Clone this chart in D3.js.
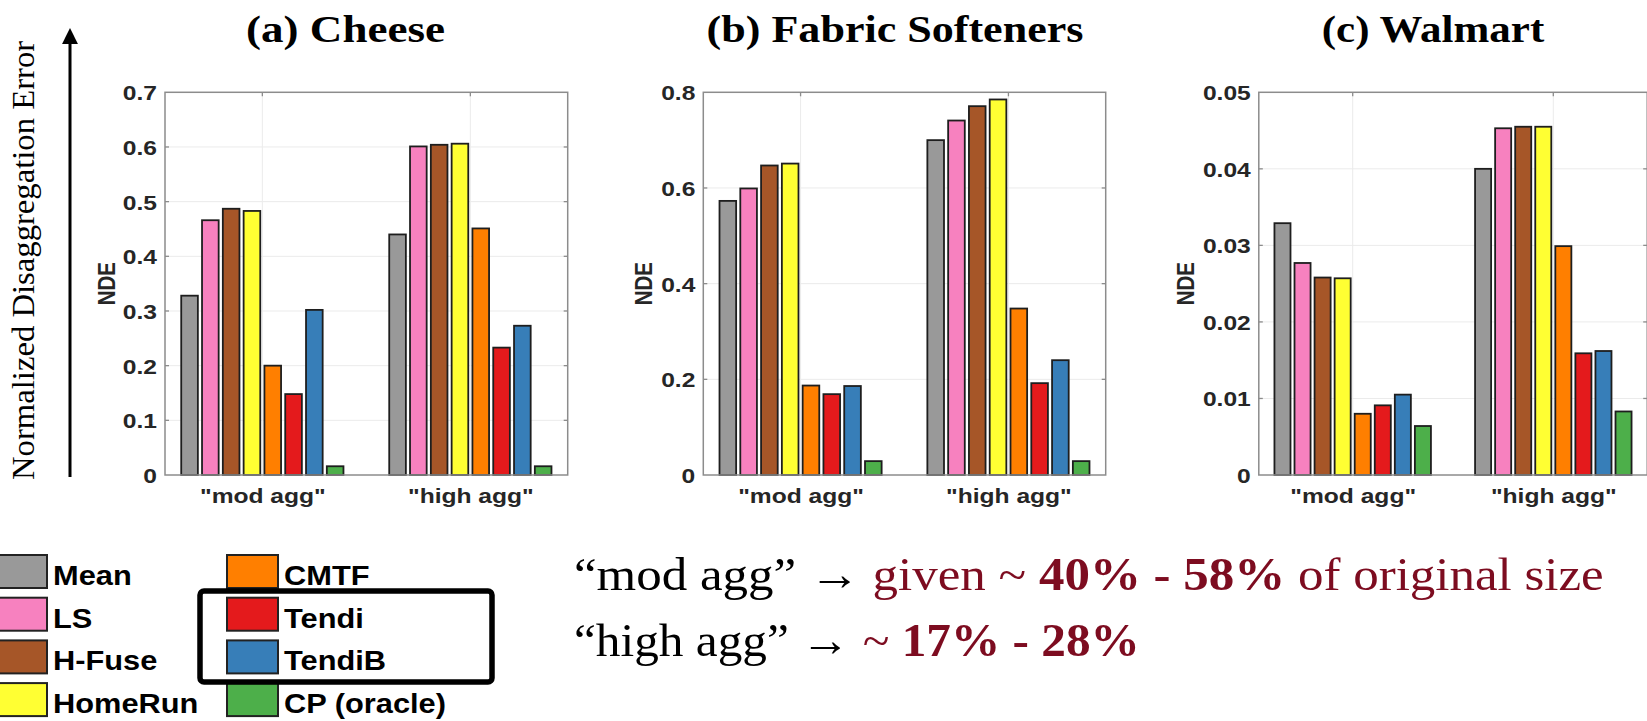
<!DOCTYPE html>
<html><head><meta charset="utf-8">
<script src="https://cdn.jsdelivr.net/npm/d3@7"></script>
<style>html,body{margin:0;padding:0;background:#fff;overflow:hidden}</style>
</head><body>
<svg id="fig" width="1647" height="721"></svg>
<script>
// ---------------- data ----------------
const groups = ['"mod agg"', '"high agg"'];
const methods = ['Mean', 'LS', 'H-Fuse', 'HomeRun', 'CMTF', 'Tendi', 'TendiB', 'CP (oracle)'];
const methodColors = ['#999999', '#f781bf', '#a65628', '#ffff33', '#ff7f00', '#e41a1c', '#377eb8', '#4daf4a'];

const cheeseMod  = [0.328, 0.466, 0.487, 0.483, 0.200, 0.148, 0.302, 0.016];
const cheeseHigh = [0.440, 0.601, 0.604, 0.606, 0.451, 0.233, 0.273, 0.016];
const fabricMod  = [0.573, 0.599, 0.647, 0.651, 0.187, 0.169, 0.186, 0.029];
const fabricHigh = [0.700, 0.741, 0.771, 0.785, 0.348, 0.192, 0.240, 0.029];
const walmartMod  = [0.0329, 0.0277, 0.0258, 0.0257, 0.0080, 0.0091, 0.0105, 0.0064];
const walmartHigh = [0.0400, 0.0453, 0.0455, 0.0455, 0.0299, 0.0159, 0.0162, 0.0083];

const cheeseTicks = [0, 0.1, 0.2, 0.3, 0.4, 0.5, 0.6, 0.7];
const cheeseTickLabels = ['0', '0.1', '0.2', '0.3', '0.4', '0.5', '0.6', '0.7'];
const fabricTicks = [0, 0.2, 0.4, 0.6, 0.8];
const fabricTickLabels = ['0', '0.2', '0.4', '0.6', '0.8'];
const walmartTicks = [0, 0.01, 0.02, 0.03, 0.04, 0.05];
const walmartTickLabels = ['0', '0.01', '0.02', '0.03', '0.04', '0.05'];

const panelTitles = ['(a) Cheese', '(b) Fabric Softeners', '(c) Walmart'];
const yLabel = 'NDE';
const sideLabel = 'Normalized Disaggregation Error';

// ---------------- layout / style ----------------
const svg = d3.select('#fig');
const SANS = '"Liberation Sans", Arial, sans-serif';
const SERIF = '"Liberation Serif", "Times New Roman", serif';
const TOP = 92.3, BOTTOM = 475;
const STRETCH = 1.2;

const panels = [
  {x0: 165,    x1: 567.7,  mod: cheeseMod,  high: cheeseHigh,  ticks: cheeseTicks,  labels: cheeseTickLabels,  tc: 345.5, tw: 199, ndeX: 106.5},
  {x0: 703.3,  x1: 1105.7, mod: fabricMod,  high: fabricHigh,  ticks: fabricTicks,  labels: fabricTickLabels,  tc: 895,   tw: 377, ndeX: 643},
  {x0: 1258.8, x1: 1647.2, mod: walmartMod, high: walmartHigh, ticks: walmartTicks, labels: walmartTickLabels, tc: 1433,  tw: 223, ndeX: 1185.5}
];

function fitText(t, targetW) {
  const w = t.node().getBBox().width;
  return targetW / w;
}

panels.forEach((p, pi) => {
  const x = d3.scaleLinear().domain([0.532, 2.468]).range([p.x0, p.x1]);
  const y = d3.scaleLinear().domain([0, p.ticks[p.ticks.length - 1]]).range([BOTTOM, TOP]);
  const g = svg.append('g');

  // grid
  g.append('g').selectAll('line').data(p.ticks.slice(1, -1)).join('line')
    .attr('x1', p.x0).attr('x2', p.x1).attr('y1', d => y(d)).attr('y2', d => y(d))
    .attr('stroke', '#ebebeb').attr('stroke-width', 1);
  g.append('g').selectAll('line').data([1, 2]).join('line')
    .attr('x1', d => x(d)).attr('x2', d => x(d)).attr('y1', TOP).attr('y2', BOTTOM)
    .attr('stroke', '#ebebeb').attr('stroke-width', 1);

  // bars
  const series = [p.mod, p.high];
  const bw = x(0.08) - x(0);
  series.forEach((vals, gi) => {
    g.append('g').selectAll('rect').data(vals).join('rect')
      .attr('x', (d, i) => x(gi + 1 + (i - 3.5) * 0.1) - bw / 2)
      .attr('width', bw)
      .attr('y', d => y(d))
      .attr('height', d => y(0) - y(d))
      .attr('fill', (d, i) => methodColors[i])
      .attr('stroke', '#1e1e1e').attr('stroke-width', 1.8);
  });

  // frame
  g.append('rect').attr('x', p.x0).attr('y', TOP).attr('width', p.x1 - p.x0).attr('height', BOTTOM - TOP)
    .attr('fill', 'none').attr('stroke', '#8c8c8c').attr('stroke-width', 1.5);
  // inner tick marks
  g.append('g').selectAll('line').data(p.ticks.slice(1, -1)).join('line')
    .attr('x1', p.x1 - 4).attr('x2', p.x1).attr('y1', d => y(d)).attr('y2', d => y(d))
    .attr('stroke', '#8c8c8c').attr('stroke-width', 1.3);
  g.append('g').selectAll('line').data(p.ticks.slice(1, -1)).join('line')
    .attr('x1', p.x0).attr('x2', p.x0 + 4).attr('y1', d => y(d)).attr('y2', d => y(d))
    .attr('stroke', '#8c8c8c').attr('stroke-width', 1.3);
  g.append('g').selectAll('line').data([1, 2]).join('line')
    .attr('x1', d => x(d)).attr('x2', d => x(d)).attr('y1', TOP).attr('y2', TOP + 4)
    .attr('stroke', '#8c8c8c').attr('stroke-width', 1.3);

  // y axis
  const ya = g.append('g').attr('transform', `translate(${p.x0},0)`)
    .call(d3.axisLeft(y).tickValues(p.ticks).tickFormat((d, i) => p.labels[i]).tickSize(0).tickPadding(8));
  ya.select('.domain').remove();
  ya.selectAll('text').attr('font-family', SANS).attr('font-weight', 'bold').attr('font-size', 20.5)
    .attr('fill', '#262626').attr('x', -8 / STRETCH).attr('dy', '0.36em')
    .attr('transform', `scale(${STRETCH},1)`);

  // x axis
  const xa = g.append('g').attr('transform', `translate(0,${BOTTOM})`)
    .call(d3.axisBottom(x).tickValues([1, 2]).tickFormat(d => groups[d - 1]).tickSize(0).tickPadding(13));
  xa.select('.domain').remove();
  xa.selectAll('text').attr('font-family', SANS).attr('font-weight', 'bold').attr('font-size', 20.5)
    .attr('fill', '#262626').attr('transform', `scale(${STRETCH},1)`);
  xa.selectAll('.tick').each(function() {
    const t = d3.select(this);
    const m = /translate\(([^,]+),/.exec(t.attr('transform'));
    t.attr('transform', `translate(${m[1]},0)`);
  });

  // y label
  svg.append('text').text(yLabel)
    .attr('transform', `translate(${p.ndeX},${(TOP + BOTTOM) / 2}) scale(${STRETCH},1) rotate(-90)`)
    .attr('text-anchor', 'middle').attr('dy', '0.36em')
    .attr('font-family', SANS).attr('font-weight', 'bold').attr('font-size', 20.5).attr('fill', '#262626');

  // title
  const tt = svg.append('text').text(panelTitles[pi])
    .attr('font-family', SERIF).attr('font-weight', 'bold').attr('font-size', 38).attr('fill', '#000')
    .attr('text-anchor', 'middle');
  const s = fitText(tt, p.tw);
  tt.attr('transform', `translate(${p.tc},41.5) scale(${s},1)`);
});

// ---------------- left arrow & label ----------------
svg.append('defs').append('marker').attr('id', 'ah').attr('viewBox', '0 0 10 10')
  .attr('refX', 0).attr('refY', 5).attr('markerWidth', 5.3).attr('markerHeight', 5.3)
  .attr('markerUnits', 'strokeWidth').attr('orient', 'auto')
  .append('path').attr('d', 'M0,0 L10,5 L0,10 z').attr('fill', '#000');
svg.append('line').attr('x1', 70).attr('x2', 70).attr('y1', 477).attr('y2', 44)
  .attr('stroke', '#000').attr('stroke-width', 3).attr('marker-end', 'url(#ah)');
const sl = svg.append('text').text(sideLabel)
  .attr('font-family', SERIF).attr('font-size', 28).attr('fill', '#000');
const sls = fitText(sl, 440);
sl.attr('transform', `translate(34,480) scale(1.15,1) rotate(-90) scale(${sls},1)`);

// ---------------- legend ----------------
const leg = svg.append('g');
methods.forEach((m, i) => {
  const col = Math.floor(i / 4), row = i % 4;
  const bx = col === 0 ? -4 : 227;
  const by = 555 + row * 42.7;
  leg.append('rect').attr('x', bx).attr('y', by).attr('width', 51).attr('height', 33)
    .attr('fill', methodColors[i]).attr('stroke', '#222').attr('stroke-width', 2);
  leg.append('text').text(m)
    .attr('transform', `translate(${bx + 57},${by + 30}) scale(1.12,1)`)
    .attr('font-family', SANS).attr('font-weight', 'bold').attr('font-size', 27.5).attr('fill', '#000');
});
leg.append('rect').attr('x', 200).attr('y', 591).attr('width', 292).attr('height', 91)
  .attr('rx', 4).attr('fill', 'none').attr('stroke', '#000').attr('stroke-width', 5.5);

// ---------------- annotation ----------------
const RED = '#7d0c20';
function noteLine(parts, x, y, w) {
  const t = svg.append('text').attr('font-family', SERIF).attr('font-size', 47);
  parts.forEach(([str, col, bold]) => {
    t.append('tspan').text(str).attr('fill', col).attr('font-weight', bold ? 'bold' : 'normal');
  });
  const s = fitText(t, w);
  t.attr('transform', `translate(${x},${y}) scale(${s},1)`);
}
noteLine([['\u201Cmod agg\u201D \u2192 ', '#000', false], ['given ~ ', RED, false], ['40% - 58%', RED, true], [' of original size', RED, false]], 574, 590, 1030);
noteLine([['\u201Chigh agg\u201D \u2192 ', '#000', false], ['~ ', RED, false], ['17% - 28%', RED, true]], 574, 656, 566);
</script>
</body></html>
